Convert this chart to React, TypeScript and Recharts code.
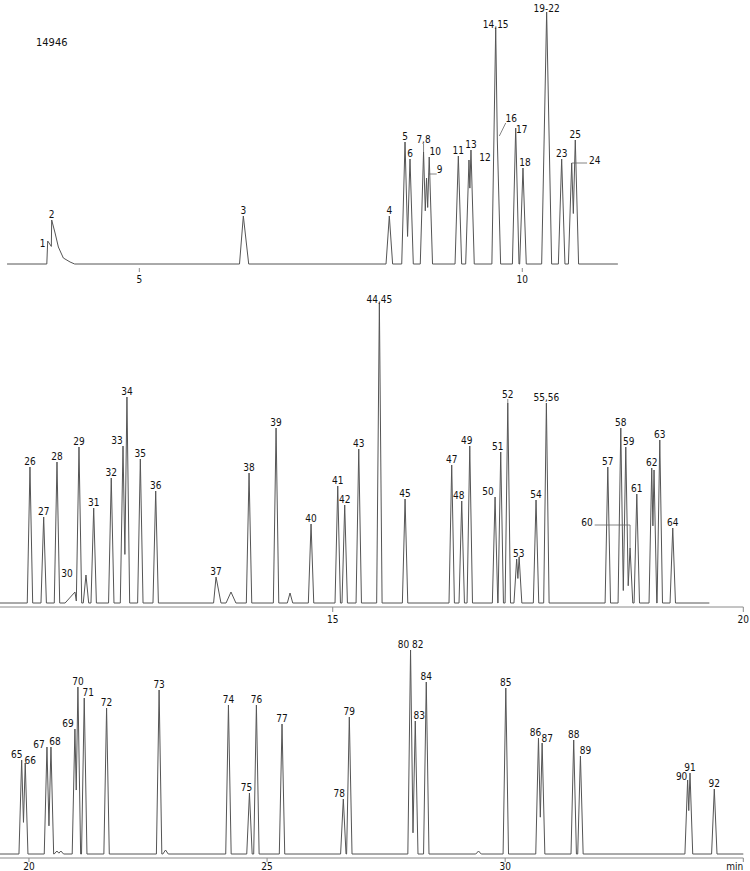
import React from "react";
import { ComposedChart, Line, Scatter, XAxis, YAxis } from "recharts";

// [retention time (min), peak height (response), label, left half-width?, right half-width?]
type Peak = [number, number, string, number?, number?];

const topPeaks: Peak[] = [
  [3.804, 23, "1", 0.012, 0.2],
  [3.856, 44, "2", 0.008, 0.2],
  [3.9, 31, "", 0.01, 0.2],
  [3.943, 17, "", 0.01, 0.2],
  [4.008, 6, "", 0.01, 0.2],
  [4.096, 2, "", 0.01, 0.06],
  [6.358, 48, "3", 0.05, 0.07],
  [8.264, 48, "4"],
  [8.469, 122, "5"],
  [8.534, 105, "6"],
  [8.711, 112, "7,8"],
  [8.75, 86, "9"],
  [8.785, 107, "10"],
  [9.165, 108, "11"],
  [9.304, 104, "12"],
  [9.33, 114, "13"],
  [9.653, 236, "14,15", 0.05, 0.07],
  [9.674, 124, "16"],
  [9.914, 136, "17"],
  [10.009, 96, "18"],
  [10.318, 252, "19-22", 0.065, 0.065],
  [10.514, 105, "23"],
  [10.645, 101, "24"],
  [10.692, 124, "25"],
];

const midPeaks: Peak[] = [
  [11.313, 136, "26"],
  [11.48, 86, "27"],
  [11.642, 141, "28"],
  [11.861, 11, "30", 0.12, 0.02],
  [11.91, 156, "29"],
  [11.995, 28, ""],
  [12.089, 95, "31"],
  [12.303, 125, "32"],
  [12.446, 157, "33"],
  [12.494, 206, "34"],
  [12.657, 144, "35"],
  [12.844, 112, "36"],
  [13.579, 26, "37", 0.03, 0.06],
  [13.761, 11, "", 0.06, 0.06],
  [13.981, 130, "38"],
  [14.31, 175, "39"],
  [14.48, 10, ""],
  [14.736, 79, "40"],
  [15.061, 117, "41"],
  [15.146, 98, "42"],
  [15.317, 154, "43"],
  [15.568, 300, "44,45"],
  [15.881, 104, "45"],
  [16.449, 138, "47"],
  [16.571, 102, "48"],
  [16.669, 157, "49"],
  [16.977, 106, "50"],
  [17.046, 151, "51"],
  [17.132, 200, "52"],
  [17.24, 44, "53"],
  [17.27, 46, ""],
  [17.476, 103, "54"],
  [17.602, 200, "55,56"],
  [18.35, 136, "57"],
  [18.508, 175, "58"],
  [18.569, 156, "59"],
  [18.621, 55, "60"],
  [18.703, 109, "61"],
  [18.885, 135, "62"],
  [18.913, 133, ""],
  [18.983, 163, "63"],
  [19.141, 75, "64"],
];

const lowPeaks: Peak[] = [
  [19.847, 94, "65"],
  [19.922, 91, "66"],
  [20.378, 107, "67"],
  [20.462, 107, "68"],
  [20.587, 3, ""],
  [20.67, 3, ""],
  [20.965, 125, "69"],
  [21.028, 167, "70"],
  [21.161, 156, "71"],
  [21.63, 146, "72"],
  [22.733, 164, "73"],
  [22.868, 4, ""],
  [24.189, 149, "74"],
  [24.63, 61, "75"],
  [24.776, 149, "76"],
  [25.314, 130, "77"],
  [26.601, 55, "78"],
  [26.727, 137, "79"],
  [28.013, 204, "80 82"],
  [28.112, 133, "83"],
  [28.343, 172, "84"],
  [29.44, 3, ""],
  [30.013, 166, "85"],
  [30.699, 116, "86"],
  [30.776, 111, "87"],
  [31.439, 114, "88"],
  [31.58, 98, "89"],
  [33.831, 74, "90"],
  [33.881, 81, "91"],
  [34.391, 65, "92"],
];

const topTicks = [5, 10];
const midTicks = [15, 20];
const lowTicks = [20, 25, 30, 35];

// label nudges: [dx, dy, leader]
const topLabelPos: Record<string, [number, number, string?]> = {
  "1": [-5, 8],
  "7,8": [0, -7, "v"],
  "9": [13, -3, "d"],
  "10": [6, 0],
  "12": [16, 3],
  "14,15": [0, 2],
  "16": [14, -16, "d"],
  "17": [6, 7],
  "18": [2, 0],
  "19-22": [0, 2],
  "24": [23, 3, "h"],
};
const midLabelPos: Record<string, [number, number, string?]> = {
  "30": [-8, -13],
  "33": [-6, 0],
  "44,45": [0, 2],
  "48": [-3, 0],
  "49": [-3, 0],
  "50": [-7, 0],
  "51": [-3, 0],
  "52": [0, -3, "v"],
  "53": [2, 0],
  "59": [3, 0],
  "60": [-43, -20, "hv"],
};
const lowLabelPos: Record<string, [number, number, string?]> = {
  "65": [-5, 0],
  "66": [5, 3],
  "67": [-8, 3],
  "68": [4, 0],
  "69": [-7, 0],
  "71": [4, 0],
  "75": [-3, 0],
  "78": [-4, 0],
  "83": [4, 0],
  "86": [-3, 0],
  "87": [5, 1],
  "89": [5, 0],
  "90": [-6, 2],
};

const FONT = "'DejaVu Sans Condensed', 'DejaVu Sans', sans-serif";
const TRACE = "#555";
const AXIS = "#8a8a8a";

// join triangular peaks into one trace; overlapping neighbours meet at their valley
function buildTrace(peaks: Peak[], hw: number, start: number, end: number) {
  const ps = peaks
    .map(([t, h, , wl, wr]) => ({ t, h, l: wl ?? hw, r: wr ?? hw }))
    .sort((a, b) => a.t - b.t);
  const pts: { t: number; v: number }[] = [{ t: start, v: 0 }];
  ps.forEach((p, i) => {
    const prev = ps[i - 1];
    if (!prev || prev.t + prev.r <= p.t - p.l) {
      if (prev) pts.push({ t: prev.t + prev.r, v: 0 });
      pts.push({ t: p.t - p.l, v: 0 });
    } else {
      const a = prev.h / prev.r;
      const b = p.h / p.l;
      const x = (prev.h + a * prev.t - p.h + b * p.t) / (a + b);
      if (x > prev.t && x < p.t) pts.push({ t: x, v: prev.h - a * (x - prev.t) });
    }
    pts.push({ t: p.t, v: p.h });
  });
  const last = ps[ps.length - 1];
  pts.push({ t: last.t + last.r, v: 0 }, { t: end, v: 0 });
  return pts;
}

function makeLabel(pos: Record<string, [number, number, string?]>) {
  return (props: any) => {
    const { cx, cy, payload } = props;
    if (cx == null || cy == null) return <g />;
    const [dx, dy, leader] = pos[payload.label] ?? [0, 0];
    const lx = cx + dx;
    const ly = cy - 2 + dy;
    const half = payload.label.length * 2.8;
    let path = "";
    if (leader === "v") path = `M${cx},${cy} V${ly + 1}`;
    if (leader === "d") path = `M${cx + 2},${cy - 4} L${lx - half},${ly + 1}`;
    if (leader === "h") path = `M${cx},${cy} H${lx - half - 2}`;
    if (leader === "hv") path = `M${lx + half + 2},${ly - 1} H${cx} V${cy}`;
    return (
      <g>
        {path && <path d={path} stroke="#666" strokeWidth={0.8} fill="none" />}
        <text x={lx} y={ly} textAnchor="middle" fontSize={10} fontFamily={FONT} fill="#111">
          {payload.label}
        </text>
      </g>
    );
  };
}

function tickRenderer(lastLabel?: string) {
  return (props: any) => {
    const { x, y, payload, index, visibleTicksCount } = props;
    const isLast = lastLabel && index === visibleTicksCount - 1;
    return (
      <text
        x={x}
        y={y + 7.3}
        textAnchor={isLast ? "end" : "middle"}
        fontSize={10}
        fontFamily={FONT}
        fill="#111"
      >
        {isLast ? lastLabel : payload.value}
      </text>
    );
  };
}

interface PanelProps {
  peaks: Peak[];
  pos: Record<string, [number, number, string?]>;
  hw: number;
  span: [number, number];
  xDomain: [number, number];
  yDomain: [number, number];
  ticks: number[];
  top: number;
  plotHeight: number;
  plotWidth: number;
  axisHeight: number;
  tickSize: number;
  tickMargin: number;
  axisLine: boolean;
  lastLabel?: string;
}

function Panel(p: PanelProps) {
  const trace = buildTrace(p.peaks, p.hw, p.span[0], p.span[1]);
  const labels = p.peaks.filter((pk) => pk[2]).map(([t, h, label]) => ({ t, h, label }));
  return (
    <div style={{ position: "absolute", left: 0, top: p.top }}>
      <ComposedChart
        width={750}
        height={p.plotHeight + p.axisHeight}
        margin={{ top: 0, right: 750 - p.plotWidth, bottom: 0, left: 0 }}
        style={{ overflow: "visible" }}
      >
        <XAxis
          type="number"
          dataKey="t"
          domain={p.xDomain}
          ticks={p.ticks}
          interval={0}
          height={p.axisHeight}
          tickSize={p.tickSize}
          tickMargin={p.tickMargin}
          axisLine={p.axisLine ? { stroke: AXIS } : false}
          tickLine={{ stroke: AXIS }}
          tick={tickRenderer(p.lastLabel)}
        />
        <YAxis type="number" hide domain={p.yDomain} />
        <Line
          data={trace}
          dataKey="v"
          type="linear"
          stroke={TRACE}
          strokeWidth={1}
          dot={false}
          activeDot={false}
          isAnimationActive={false}
        />
        <Scatter data={labels} dataKey="h" shape={makeLabel(p.pos)} isAnimationActive={false} />
      </ComposedChart>
    </div>
  );
}

export default function App() {
  return (
    <div
      style={{
        position: "absolute",
        left: 0,
        top: 0,
        width: 750,
        height: 871,
        background: "#fff",
        overflow: "hidden",
      }}
    >
      <svg width={120} height={60} style={{ position: "absolute", left: 0, top: 0 }}>
        <text x={36} y={46} fontSize={11} fontFamily={FONT} fill="#111">
          14946
        </text>
      </svg>
      <Panel
        peaks={topPeaks}
        pos={topLabelPos}
        hw={0.043}
        span={[3.273, 11.248]}
        xDomain={[3.181, 12.973]}
        yDomain={[-4, 264]}
        ticks={topTicks}
        top={0}
        plotHeight={268}
        plotWidth={750}
        axisHeight={25}
        tickSize={4}
        tickMargin={4}
        axisLine={false}
      />
      <Panel
        peaks={midPeaks}
        pos={midLabelPos}
        hw={0.033}
        span={[10.948, 19.587]}
        xDomain={[10.948, 20]}
        yDomain={[-4, 313]}
        ticks={midTicks}
        top={290}
        plotHeight={317}
        plotWidth={743.3}
        axisHeight={22}
        tickSize={5}
        tickMargin={4}
        axisLine={true}
      />
      <Panel
        peaks={lowPeaks}
        pos={lowLabelPos}
        hw={0.057}
        span={[19.392, 35]}
        xDomain={[19.392, 35]}
        yDomain={[-4, 214]}
        ticks={lowTicks}
        top={640}
        plotHeight={218}
        plotWidth={743.3}
        axisHeight={13}
        tickSize={4}
        tickMargin={1}
        axisLine={true}
        lastLabel="min"
      />
    </div>
  );
}
